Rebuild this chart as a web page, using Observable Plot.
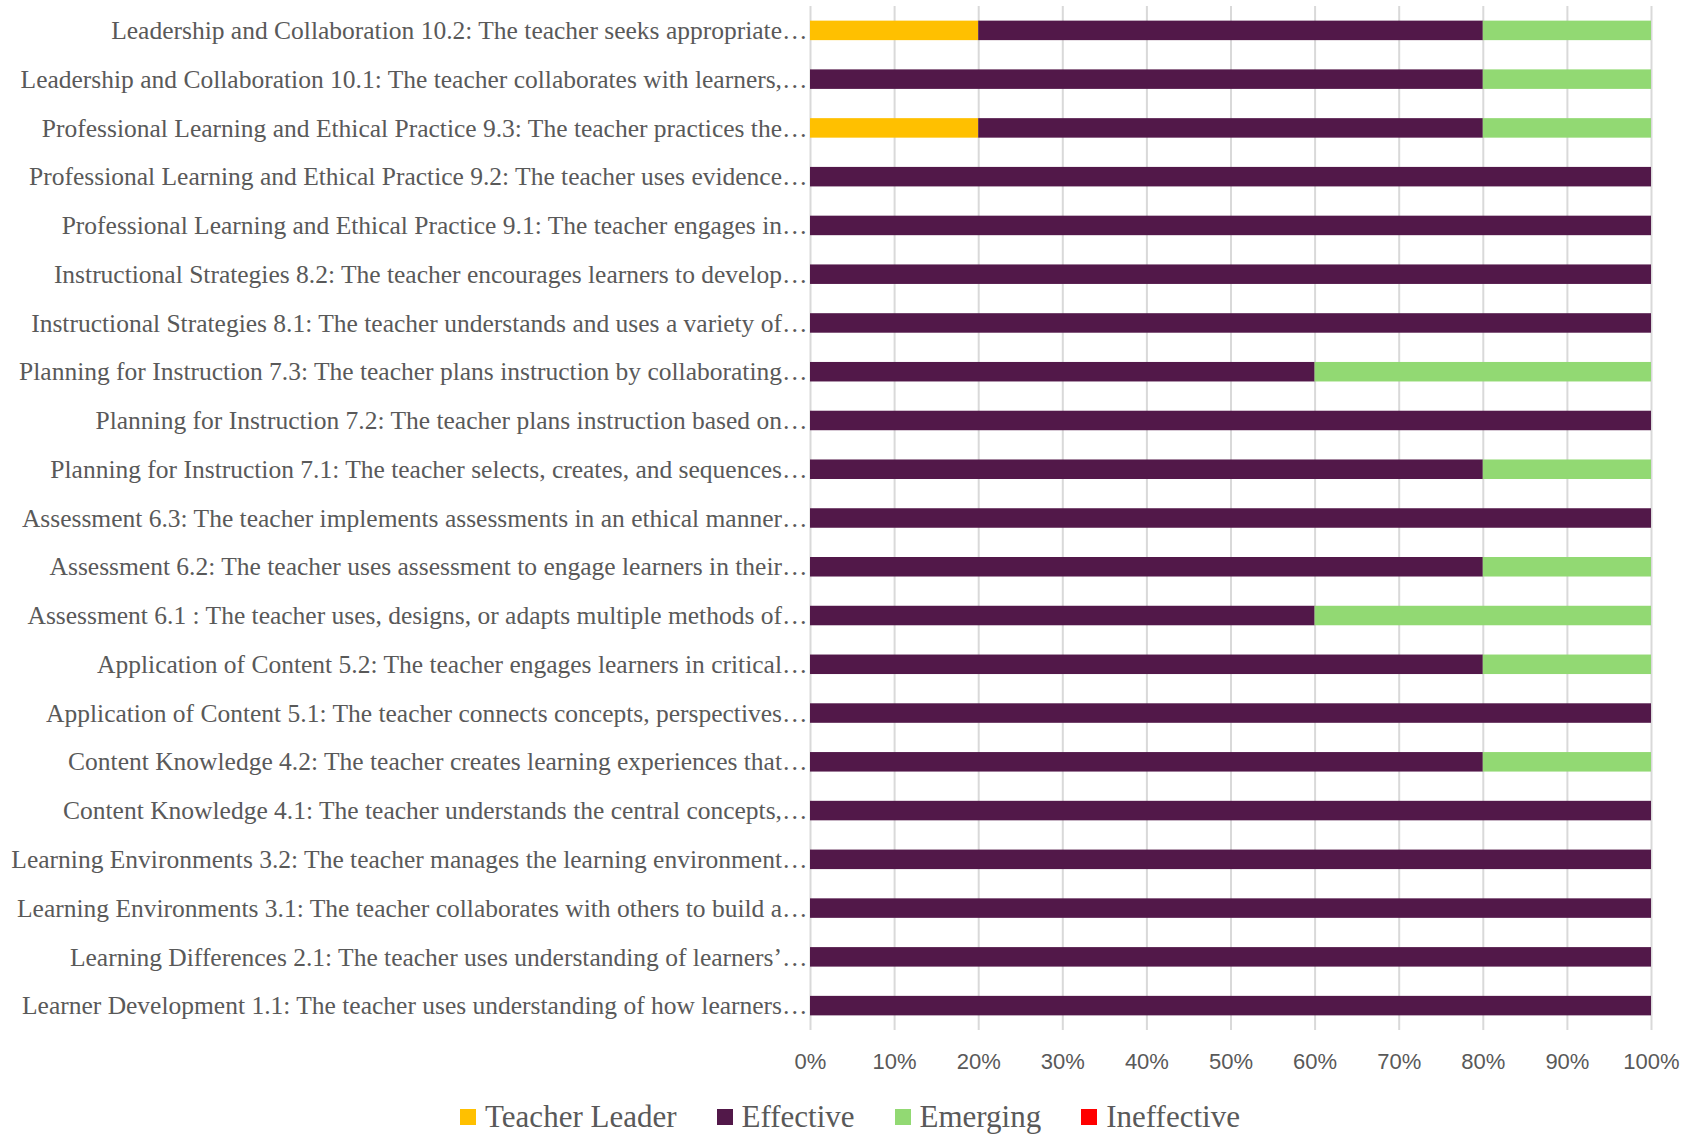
<!DOCTYPE html>
<html>
<head>
<meta charset="utf-8">
<script src="https://cdn.jsdelivr.net/npm/d3@7"></script>
<script src="https://cdn.jsdelivr.net/npm/@observablehq/plot@0.6"></script>
<style>
  body { margin: 0; background: #fff; }
  #chart svg { display: block; }
  .legend { display: flex; justify-content: center; gap: 40px; font-family: "Liberation Serif", serif; font-size: 31px; line-height: 36px; color: #595959; margin-top: 17px; padding-left: 6px; }
  .legend span.item { display: flex; align-items: center; }
  .legend span.sw { display: inline-block; width: 16px; height: 16px; margin-right: 9px; }
</style>
</head>
<body>
<div id="chart"></div>
<div class="legend" id="legend"></div>
<script>
const categories = [
  "Leadership and Collaboration 10.2: The teacher seeks appropriate…",
  "Leadership and Collaboration 10.1: The teacher collaborates with learners,…",
  "Professional Learning and Ethical Practice 9.3: The teacher practices the…",
  "Professional Learning and Ethical Practice 9.2: The teacher uses evidence…",
  "Professional Learning and Ethical Practice 9.1: The teacher engages in…",
  "Instructional Strategies 8.2: The teacher encourages learners to develop…",
  "Instructional Strategies 8.1: The teacher understands and uses a variety of…",
  "Planning for Instruction 7.3: The teacher plans instruction by collaborating…",
  "Planning for Instruction 7.2: The teacher plans instruction based on…",
  "Planning for Instruction 7.1: The teacher selects, creates, and sequences…",
  "Assessment 6.3: The teacher implements assessments in an ethical manner…",
  "Assessment 6.2: The teacher uses assessment to engage learners in their…",
  "Assessment 6.1 : The teacher uses, designs, or adapts multiple methods of…",
  "Application of Content 5.2: The teacher engages learners in critical…",
  "Application of Content 5.1: The teacher connects concepts, perspectives…",
  "Content Knowledge 4.2: The teacher creates learning experiences that…",
  "Content Knowledge 4.1: The teacher understands the central concepts,…",
  "Learning Environments 3.2: The teacher manages the learning environment…",
  "Learning Environments 3.1: The teacher collaborates with others to build a…",
  "Learning Differences 2.1: The teacher uses understanding of learners’…",
  "Learner Development 1.1: The teacher uses understanding of how learners…"
];
const seriesNames = ["Teacher Leader", "Effective", "Emerging", "Ineffective"];
const seriesColors = ["#FFC000", "#521849", "#92D973", "#FF0000"];
const teacherLeader = [20, 0, 20, 0, 0, 0, 0, 0, 0, 0, 0, 0, 0, 0, 0, 0, 0, 0, 0, 0, 0];
const effective     = [60, 80, 60, 100, 100, 100, 100, 60, 100, 80, 100, 80, 60, 80, 100, 80, 100, 100, 100, 100, 100];
const emerging      = [20, 20, 20, 0, 0, 0, 0, 40, 0, 20, 0, 20, 40, 20, 0, 20, 0, 0, 0, 0, 0];
const ineffective   = [0, 0, 0, 0, 0, 0, 0, 0, 0, 0, 0, 0, 0, 0, 0, 0, 0, 0, 0, 0, 0];
const xTicks = [0, 10, 20, 30, 40, 50, 60, 70, 80, 90, 100];

const seriesValues = [teacherLeader, effective, emerging, ineffective];
const data = [];
seriesNames.forEach((s, si) => {
  categories.forEach((c, ci) => {
    data.push({category: c, series: s, value: seriesValues[si][ci]});
  });
});

const chart = Plot.plot({
  width: 1694,
  height: 1082,
  marginLeft: 810,
  marginRight: 43,
  marginTop: 6,
  marginBottom: 52,
  style: {fontFamily: "'Liberation Serif', serif", background: "#fff"},
  x: {domain: [0, 100], label: null},
  y: {domain: categories, label: null, paddingInner: 0.6, paddingOuter: 0.3, round: false},
  color: {domain: seriesNames, range: seriesColors},
  marks: [
    Plot.ruleX(xTicks, {stroke: "#d9d9d9", strokeWidth: 2, strokeOpacity: 1}),
    Plot.barX(data, Plot.stackX({x: "value", y: "category", fill: "series", order: seriesNames})),
    Plot.axisX({ticks: xTicks, tickFormat: d => d + "%", tickSize: 0, tickPadding: 23, fontSize: 22, fontFamily: "'Liberation Sans', sans-serif", fill: "#595959", label: null}),
    Plot.axisY({tickSize: 0, tickPadding: 3, fontSize: 25.5, fill: "#595959", label: null})
  ]
});
document.getElementById("chart").appendChild(chart);

const legend = document.getElementById("legend");
seriesNames.forEach((s, i) => {
  const item = document.createElement("span");
  item.className = "item";
  item.innerHTML = `<span class="sw" style="background:${seriesColors[i]}"></span>${s}`;
  legend.appendChild(item);
});
</script>
</body>
</html>
